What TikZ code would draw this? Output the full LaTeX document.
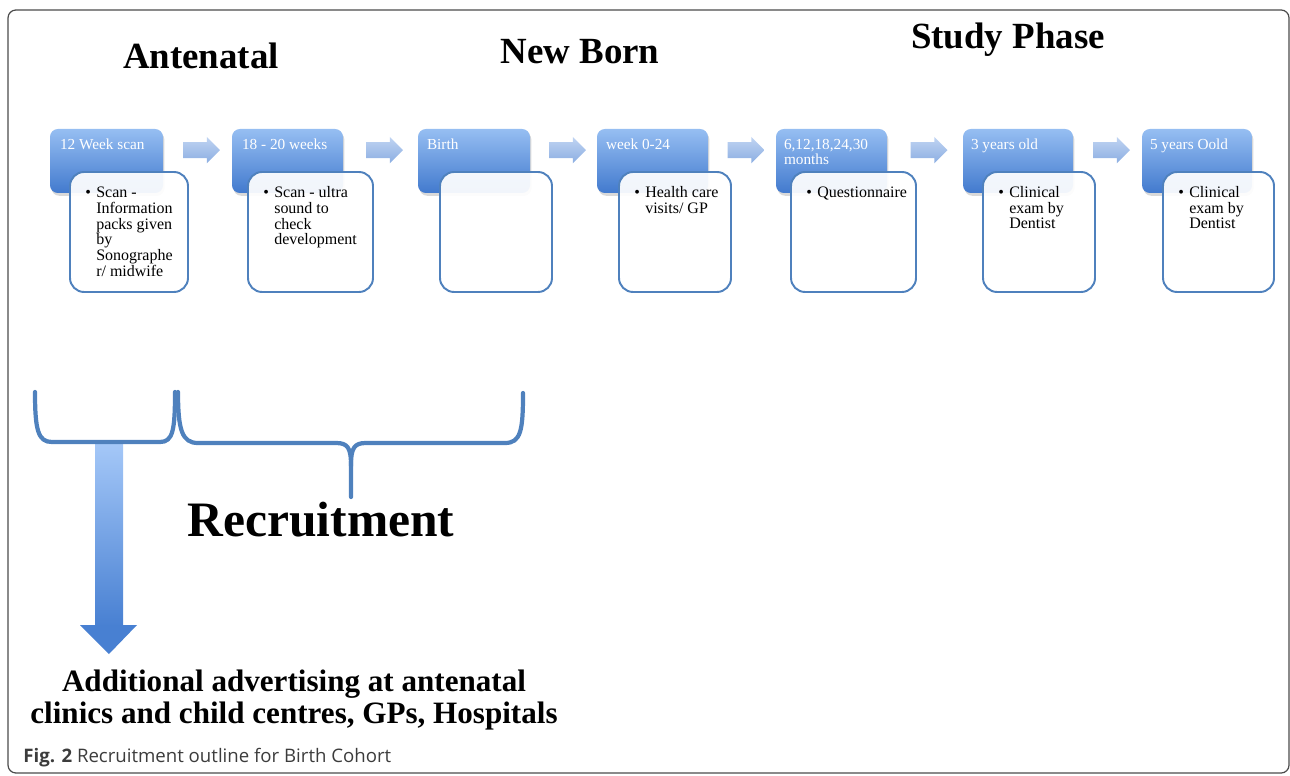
\documentclass[tikz,border=0pt]{standalone}
\usepackage{fontspec}
\setmainfont{Liberation Serif}
\newfontfamily\capfont{Open Sans}
\usepackage{tikz}
\usetikzlibrary{calc,fit,positioning,shapes.arrows,shadows}

\definecolor{stagetop}{RGB}{150,190,242}
\definecolor{stagebot}{RGB}{66,122,206}
\definecolor{boxline}{RGB}{79,129,189}
\definecolor{arrtop}{RGB}{192,212,242}
\definecolor{arrbot}{RGB}{140,174,226}
\definecolor{bigtop}{RGB}{165,200,248}
\definecolor{bigbot}{RGB}{72,128,210}
\definecolor{capgray}{RGB}{60,60,60}

\tikzset{
  stage/.style={rounded corners=4.5pt, top color=stagetop, bottom color=stagebot, draw=none, inner sep=0pt,
                drop shadow={shadow xshift=0.8pt, shadow yshift=-1.6pt, opacity=0.3}},
  detail/.style={rounded corners=8pt, draw=boxline, line width=1.1pt, fill=white, fill opacity=0.93, inner sep=0pt},
  stagetext/.style={anchor=north west, inner sep=0pt, text=white, align=left, font=\fontsize{8.7}{8.9}\selectfont},
  bultext/.style={anchor=north west, inner sep=0pt, font=\fontsize{9.1}{8.9}\selectfont},
  steparrow/.style={single arrow, draw=none, top color=arrtop, bottom color=arrbot, inner xsep=0pt, inner ysep=4.4pt,
                    minimum height=21pt, minimum width=14.6pt, single arrow head extend=2.9pt, yshift=6.2pt},
  heading/.style={font=\fontsize{21}{24}\selectfont\bfseries},
  brace/.style={draw=boxline, line width=2.4pt, line cap=round, line join=round}
}
\tikzstyle{frameline}=[draw=black!70, line width=0.7pt, rounded corners=4.5pt]
\newcommand{\bul}[1]{\makebox[6.2pt][l]{\textbullet}\begin{tabular}[t]{@{}l@{}}#1\end{tabular}}

\begin{document}
\begin{tikzpicture}[x=0.02cm,y=-0.02cm]
  \useasboundingbox (0,0) rectangle (1290,776);
  \draw[frameline] (8,10) rectangle (1289,773);

  % Phase headings
  \node[heading] (hante) at (201,56) {Antenatal};
  \node[heading] (hborn) at (580,52) {New Born};
  \node[heading] (hstudy) at (1008,40) {Study Phase};

  % Draw stage boxes
  \node[stage, fit={(50,129) (163,193)}] (s1) {};
  \node[stage, fit={(232,129) (343,193)}] (s2) {};
  \node[stage, fit={(418,129) (530,193)}] (s3) {};
  \node[stage, fit={(597,129) (708,193)}] (s4) {};
  \node[stage, fit={(776,129) (887,193)}] (s5) {};
  \node[stage, fit={(963,129) (1073,193)}] (s6) {};
  \node[stage, fit={(1142,129) (1252,193)}] (s7) {};

  \node[stagetext] (l1) at ($(s1.north west)+(10,10)$) {12 Week scan};
  \node[stagetext] (l2) at ($(s2.north west)+(10,10)$) {18 - 20 weeks};
  \node[stagetext] (l3) at ($(s3.north west)+(9,10)$) {Birth};
  \node[stagetext] (l4) at ($(s4.north west)+(9,10)$) {week 0-24};
  \node[stagetext] (l5) at ($(s5.north west)+(8,10)$) {6,12,18,24,30\\months};
  \node[stagetext] (l6) at ($(s6.north west)+(8,10)$) {3 years old};
  \node[stagetext] (l7) at ($(s7.north west)+(8,10)$) {5 years Oold};

  % Draw arrows between stages
  \node[steparrow] (a1) at ($(s1.east)!0.5!(s2.west)$) {};
  \node[steparrow] (a2) at ($(s2.east)!0.5!(s3.west)$) {};
  \node[steparrow] (a3) at ($(s3.east)!0.5!(s4.west)$) {};
  \node[steparrow] (a4) at ($(s4.east)!0.5!(s5.west)$) {};
  \node[steparrow] (a5) at ($(s5.east)!0.5!(s6.west)$) {};
  \node[steparrow] (a6) at ($(s6.east)!0.5!(s7.west)$) {};

  % Draw detail boxes
  \node[detail, fit={(70,172) (188,292)}] (d1) {};
  \node[detail, fit={(248,172) (373,292)}] (d2) {};
  \node[detail, fit={(440,172) (552,292)}] (d3) {};
  \node[detail, fit={(619,172) (731,292)}] (d4) {};
  \node[detail, fit={(791,172) (916,292)}] (d5) {};
  \node[detail, fit={(983,172) (1095,292)}] (d6) {};
  \node[detail, fit={(1163,172) (1274,292)}] (d7) {};

  \node[bultext] (t1) at ($(d1.north west)+(16,15)$) {\bul{Scan -\\Information\\packs given\\by\\Sonographe\\r/ midwife}};
  \node[bultext] (t2) at ($(d2.north west)+(16,15)$) {\bul{Scan - ultra\\sound to\\check\\development}};
  \node[bultext] (t4) at ($(d4.north west)+(16,15)$) {\bul{Health care\\visits/ GP}};
  \node[bultext] (t5) at ($(d5.north west)+(16,15)$) {\bul{Questionnaire}};
  \node[bultext] (t6) at ($(d6.north west)+(16,15)$) {\bul{Clinical\\exam by\\Dentist}};
  \node[bultext] (t7) at ($(d7.north west)+(16,15)$) {\bul{Clinical\\exam by\\Dentist}};

  % Advertising arrow
  \fill[top color=bigtop, bottom color=bigbot] (95,443) rectangle (123,626);
  \fill[bigbot] (80,625) -- (137,625) -- (109,654) -- cycle;

  % Braces
  \path[brace] (35,392) .. controls (35,430) and (38,442) .. (52,442) -- (160,442)
               .. controls (173,442) and (175,430) .. (175,392);
  \path[brace] (178,392) .. controls (178,430) and (182,443) .. (198,443) -- (336,443)
               .. controls (348,443) and (351,448) .. (351,466) -- (351,497);
  \path[brace] (351,466) .. controls (351,448) and (354,443) .. (366,443) -- (505,443)
               .. controls (521,443) and (523,430) .. (523,393);

  \node[font=\fontsize{28.2}{30}\selectfont\bfseries] (recr) at (321,520) {Recruitment};
  \node[font=\fontsize{17.7}{18.1}\selectfont\bfseries, align=center] (adv) at (294,700)
       {Additional advertising at antenatal\\clinics and child centres, GPs, Hospitals};

  \node[anchor=west, inner sep=0pt, text=capgray, font=\capfont\fontsize{10.6}{12}\selectfont] (cap) at (23,758)
       {\textbf{Fig. 2} Recruitment outline for Birth Cohort};
\end{tikzpicture}
\end{document}
